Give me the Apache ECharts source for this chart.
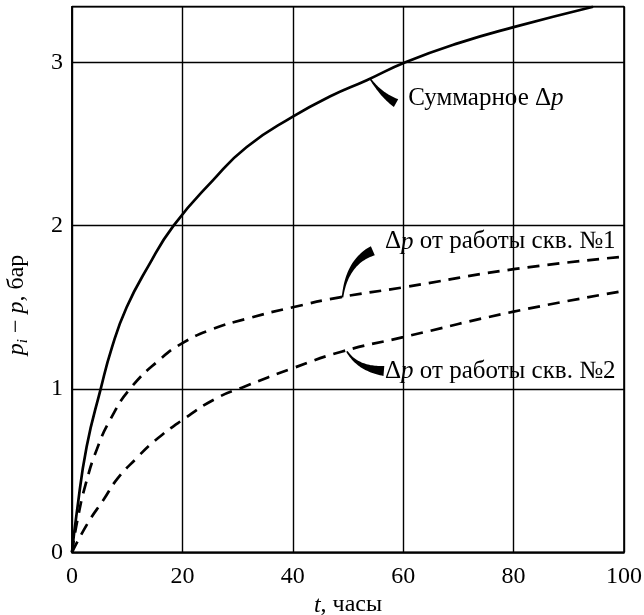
<!DOCTYPE html>
<html><head><meta charset="utf-8">
<script src="https://cdn.jsdelivr.net/npm/echarts@6/dist/echarts.min.js"></script>
<style>html,body{margin:0;padding:0;background:#fff}#c{width:644px;height:615px}</style>
</head><body><div id="c"></div>
<script>
// ---- data ----
const tSum = [0, 0.85, 2.66, 5.2, 7.2, 9.9, 13.8, 18.4, 25.6, 31.6, 40, 46.7, 53.4, 60.4, 70, 80, 94.4];
const pSum = [0, 0.24, 0.647, 1.0, 1.25, 1.5, 1.75, 2.0, 2.28, 2.48, 2.667, 2.79, 2.89, 3.0, 3.117, 3.215, 3.34];
const tW1 = [0, 1, 2.5, 4.5, 6.9, 10.5, 15.9, 20, 25, 32.2, 40, 48.5, 60, 80, 100];
const pW1 = [0, 0.2, 0.42, 0.63, 0.81, 1.0, 1.18, 1.28, 1.361, 1.435, 1.50, 1.561, 1.622, 1.733, 1.81];
const tW2 = [0, 2.96, 5.68, 8.2, 11.7, 15.0, 20, 26, 31.2, 40, 48.8, 60, 80, 100];
const pW2 = [0, 0.184, 0.32, 0.449, 0.576, 0.683, 0.81, 0.94, 1.014, 1.127, 1.228, 1.317, 1.473, 1.60];
const xTicks = [0, 20, 40, 60, 80, 100];
const yTicks = [0, 1, 2, 3];
const labelSum = 'Суммарное Δ{i|p}';
const labelW1 = 'Δ{i|p} от работы скв. №1';
const labelW2 = 'Δ{i|p} от работы скв. №2';
const xTitle = '{i|t}, часы';
const yTitle = '{i|p}{s|i} − {i|p}, бар';

const FONT = 'Liberation Serif';
const zip = (a, b) => a.map((v, i) => [v, b[i]]);
const rich = {
  i: {fontStyle: 'italic', fontFamily: FONT, fontSize: 24},
  ia: {fontStyle: 'italic', fontFamily: FONT, fontSize: 25},
  s: {fontStyle: 'italic', fontFamily: FONT, fontSize: 15, padding: [12, 0, 0, 0]}
};

const chart = echarts.init(document.getElementById('c'), null, {renderer: 'canvas'});
const lineStyle = (dash) => ({color: '#000', width: 2.7, type: dash ? [12, 8] : 'solid'});
chart.setOption({
  animation: false,
  backgroundColor: '#fff',
  grid: {left: 72, right: 20, top: 6.7, bottom: 62.7, containLabel: false, outerBoundsMode: 'none',
    show: true, borderColor: '#000', borderWidth: 1.6, backgroundColor: 'transparent'},
  xAxis: {
    type: 'value', min: 0, max: 100, interval: 20,
    axisLine: {show: true, lineStyle: {color: '#000', width: 1.6}},
    axisTick: {show: false},
    splitLine: {show: true, lineStyle: {color: '#000', width: 1.4}},
    axisLabel: {color: '#000', fontFamily: FONT, fontSize: 24, margin: 12,
      formatter: v => xTicks.includes(v) ? String(v) : ''},
    name: xTitle, nameLocation: 'middle', nameGap: 33,
    nameTextStyle: {color: '#000', fontFamily: FONT, fontSize: 24, rich: rich}
  },
  yAxis: {
    type: 'value', min: 0, max: 3.34, interval: 1,
    axisLine: {show: true, lineStyle: {color: '#000', width: 1.6}},
    axisTick: {show: false},
    splitLine: {show: true, lineStyle: {color: '#000', width: 1.4}},
    axisLabel: {color: '#000', fontFamily: FONT, fontSize: 24, margin: 9,
      formatter: v => yTicks.includes(v) ? String(v) : ''}
  },
  series: [
    {type: 'line', data: zip(tSum, pSum), symbol: 'none', smooth: 0.5, lineStyle: lineStyle(false), z: 5},
    {type: 'line', data: zip(tW1, pW1), symbol: 'none', smooth: 0.5, lineStyle: lineStyle(true), z: 5},
    {type: 'line', data: zip(tW2, pW2), symbol: 'none', smooth: 0.5, lineStyle: lineStyle(true), z: 5}
  ]
});

// ---- annotations (anchored in data coordinates) ----
function px(p) { return chart.convertToPixel({gridIndex: 0}, p); }
function wedge(s, c, e, w) {
  const P = [s, c, e].map(px);
  const N = 30, L = [], R = [];
  for (let k = 0; k <= N; k++) {
    const u = k / N;
    const x = (1-u)*(1-u)*P[0][0] + 2*u*(1-u)*P[1][0] + u*u*P[2][0];
    const y = (1-u)*(1-u)*P[0][1] + 2*u*(1-u)*P[1][1] + u*u*P[2][1];
    const dx = 2*(1-u)*(P[1][0]-P[0][0]) + 2*u*(P[2][0]-P[1][0]);
    const dy = 2*(1-u)*(P[1][1]-P[0][1]) + 2*u*(P[2][1]-P[1][1]);
    const l = Math.hypot(dx, dy) || 1;
    const nx = -dy / l, ny = dx / l;
    const hw = 0.8 + (w / 2 - 0.8) * Math.pow(u, 1.4);
    L.push([x + nx*hw, y + ny*hw]); R.push([x - nx*hw, y - ny*hw]);
  }
  return {type: 'polygon', shape: {points: L.concat(R.reverse())}, style: {fill: '#000'}, z: 20};
}
function label(text, at) {
  const p = px(at);
  return {type: 'text', x: p[0], y: p[1], z: 20,
    style: {text: text.replace(/\{i\|/g, '{ia|'), fill: '#000', fontFamily: FONT, fontSize: 25, align: 'left', verticalAlign: 'middle', rich: rich}};
}
chart.setOption({
  graphic: [
    wedge([54.0, 2.90], [56.0, 2.80], [58.7, 2.75], 9),
    wedge([49.0, 1.56], [49.8, 1.778], [54.5, 1.846], 10),
    wedge([49.8, 1.23], [51.8, 1.123], [56.5, 1.11], 10),
    label(labelSum, [60.9, 2.78]),
    label(labelW1, [56.7, 1.90]),
    label(labelW2, [56.7, 1.106]),
    {type: 'text', x: 17, y: 305, rotation: Math.PI / 2, z: 20,
      style: {text: yTitle, fill: '#000', fontFamily: FONT, fontSize: 24, align: 'center', verticalAlign: 'middle', rich: rich}}
  ]
});
</script>
</body></html>
